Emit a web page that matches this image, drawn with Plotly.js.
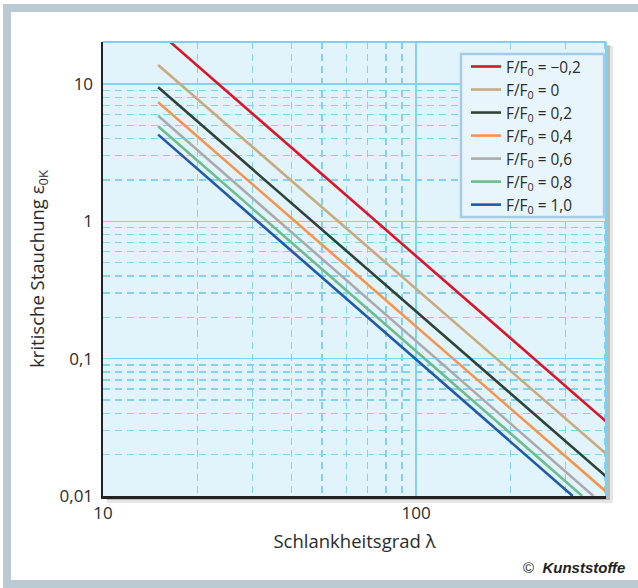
<!DOCTYPE html>
<html>
<head>
<meta charset="utf-8">
<script src="https://cdn.plot.ly/plotly-3.0.1.min.js"></script>
<style>
  html, body { margin: 0; padding: 0; background: #ffffff; width: 638px; height: 588px; overflow: hidden; }
  #frame { position: absolute; left: 3px; top: 4px; width: 635px; height: 584px; background: #bccbd3; }
  #chart { position: absolute; left: 11px; top: 12px; width: 627px; height: 568px; background: #ffffff; }
</style>
</head>
<body>
<div id="frame"></div>
<div id="chart"></div>
<script>
// Series names
const seriesNames = ["F/F<sub>0</sub> = \u22120,2", "F/F<sub>0</sub> = 0", "F/F<sub>0</sub> = 0,2",
                     "F/F<sub>0</sub> = 0,4", "F/F<sub>0</sub> = 0,6", "F/F<sub>0</sub> = 0,8", "F/F<sub>0</sub> = 1,0"];
const seriesColors = ["#dc1428", "#c9a97e", "#2e4236", "#f7944c", "#aaaaaa", "#6cbc8c", "#1f5aa8"];

// Slenderness (lambda) values at line start / end
const lamM02 = [16.4, 405];
const lam0   = [15, 405];
const lam02  = [15, 405];
const lam04  = [15, 405];
const lam06  = [15, 368];
const lam08  = [15, 339];
const lam10  = [15, 316];

// Critical strain values at those points
const epsM02 = [20.2, 0.0347];
const eps0   = [13.75, 0.0202];
const eps02  = [9.46, 0.0138];
const eps04  = [7.36, 0.0107];
const eps06  = [5.88, 0.01];
const eps08  = [4.92, 0.01];
const eps10  = [4.28, 0.01];

const xTickVals = [10, 100];
const xTickText = ["10", "100"];
const yTickVals = [0.01, 0.1, 1, 10];
const yTickText = ["0,01", "0,1", "1", "10"];

const xs = [lamM02, lam0, lam02, lam04, lam06, lam08, lam10];
const ys = [epsM02, eps0, eps02, eps04, eps06, eps08, eps10];

const traces = xs.map((x, i) => ({
  type: "scatter", mode: "lines", x: x, y: ys[i], name: seriesNames[i],
  line: { color: seriesColors[i], width: 2.6 }, hoverinfo: "skip"
}));

const gridCol = "#82d3f1";
const FONT = "Open Sans, Noto Sans, sans-serif";
const W = 503, H = 454;          // plot-area size in px
const PX0 = 103, PY0 = 496;      // plot-area bottom-left in page px
const px = v => (v - PX0) / W;   // page x -> paper
const py = v => (PY0 - v) / H;   // page y -> paper

const layout = {
  width: 627, height: 568,
  margin: { l: 92, r: 32, t: 30, b: 84, pad: 0 },
  paper_bgcolor: "#ffffff",
  plot_bgcolor: "#e1f3fb",
  showlegend: true,
  font: { family: FONT, color: "#2b2b2b", size: 17 },
  xaxis: {
    type: "log", range: [1, 2.606], fixedrange: true,
    tickvals: xTickVals, ticktext: xTickText, ticks: "",
    tickfont: { family: FONT, size: 17, color: "#2b2b2b" },
    showgrid: true, gridcolor: gridCol, gridwidth: 1.5,
    minor: { dtick: "D1", showgrid: true, gridcolor: gridCol, gridwidth: 1.3, griddash: "7px,5px", ticks: "" },
    showline: true, linecolor: "#222222", linewidth: 2.5, zeroline: false,
    title: { text: "Schlankheitsgrad \u03bb", font: { family: FONT, size: 18.5, color: "#2b2b2b" }, standoff: 12 }
  },
  yaxis: {
    type: "log", range: [-2, 1.306], fixedrange: true,
    tickvals: yTickVals, ticktext: yTickText, ticks: "",
    tickfont: { family: FONT, size: 17, color: "#2b2b2b" },
    showgrid: true, gridcolor: gridCol, gridwidth: 1.5,
    minor: { dtick: "D1", showgrid: true, gridcolor: gridCol, gridwidth: 1.3, griddash: "7px,5px", ticks: "" },
    showline: true, linecolor: "#222222", linewidth: 2.5, zeroline: false,
    ticklabelstandoff: 4,
    title: { text: "kritische Stauchung \u03b5<sub>0K</sub>", font: { family: FONT, size: 18.5, color: "#2b2b2b" }, standoff: 10 }
  },
  legend: {
    x: px(466), y: py(50), xanchor: "left", yanchor: "top",
    bgcolor: "rgba(0,0,0,0)", borderwidth: 0,
    font: { family: FONT, size: 15.4, color: "#2b2b2b" },
    tracegroupgap: 0, itemwidth: 30
  },
  shapes: [
    { type: "rect", xref: "paper", yref: "paper", x0: 1, x1: 1 + 7 / W, y0: -7 / H, y1: 1 - 4 / H,
      fillcolor: "rgba(0,0,0,0.10)", line: { width: 0 }, layer: "below" },
    { type: "rect", xref: "paper", yref: "paper", x0: 1, x1: 1 + 4 / W, y0: -4 / H, y1: 1 - 3 / H,
      fillcolor: "rgba(0,0,0,0.18)", line: { width: 0 }, layer: "below" },
    { type: "rect", xref: "paper", yref: "paper", x0: 4 / W, x1: 1, y0: -7 / H, y1: 0,
      fillcolor: "rgba(0,0,0,0.10)", line: { width: 0 }, layer: "below" },
    { type: "rect", xref: "paper", yref: "paper", x0: 3 / W, x1: 1, y0: -4 / H, y1: 0,
      fillcolor: "rgba(0,0,0,0.18)", line: { width: 0 }, layer: "below" },
    { type: "line", xref: "paper", yref: "paper", x0: 0, x1: 1, y0: 1, y1: 1,
      line: { color: "#7fd0f0", width: 2 }, layer: "above" },
    { type: "line", xref: "paper", yref: "paper", x0: 1, x1: 1, y0: 0, y1: 1,
      line: { color: "#7fd0f0", width: 2 }, layer: "above" },
    // legend box
    { type: "rect", xref: "paper", yref: "paper", x0: px(461), x1: px(604), y0: py(217), y1: py(54),
      fillcolor: "#e8f6fc", line: { color: "#a6cbe9", width: 2.5 }, layer: "above" }
  ],
  annotations: [
    { xref: "paper", yref: "paper", x: px(627), y: py(567), xanchor: "right", yanchor: "middle",
      showarrow: false, text: "\u00a9  <b><i>Kunststoffe</i></b>",
      font: { family: "Liberation Sans Narrow, Liberation Sans, Arial, sans-serif", size: 15, color: "#222222" } }
  ]
};

Plotly.newPlot("chart", traces, layout, { displayModeBar: false, staticPlot: true });
</script>
</body>
</html>
